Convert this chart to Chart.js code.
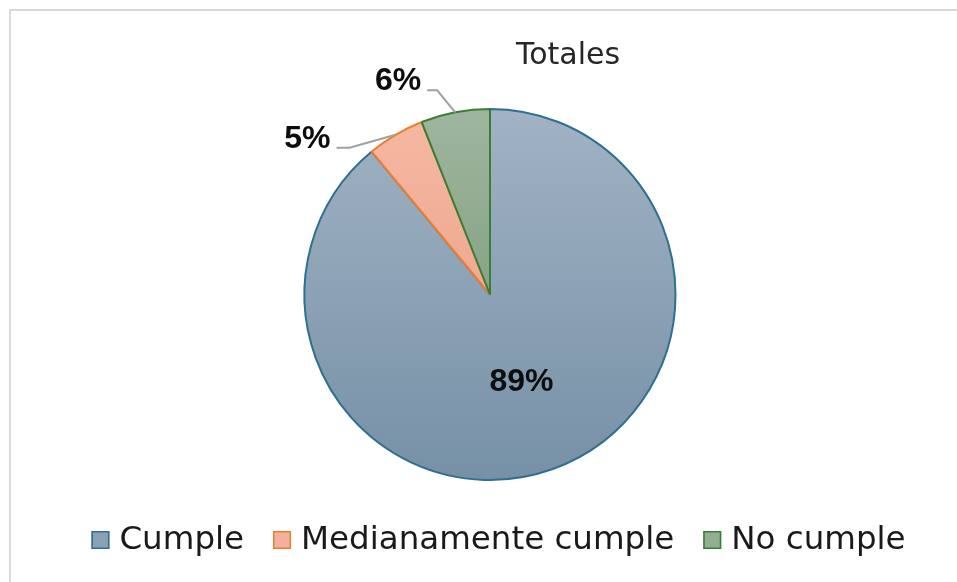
<!DOCTYPE html>
<html lang="es">
<head>
<meta charset="utf-8">
<title>Totales</title>
<script src="https://cdn.jsdelivr.net/npm/chart.js@4.4.1/dist/chart.umd.min.js"></script>
<style>
  html, body { margin: 0; padding: 0; background: #ffffff; }
  #wrap { position: relative; width: 957px; height: 582px; }
</style>
</head>
<body>
<div id="wrap"><canvas id="pie"></canvas></div>
<script>
// Chart data
const chartTitle = 'Totales';
const categories = ['Cumple', 'Medianamente cumple', 'No cumple'];
const percentages = [89, 5, 6];

// Slice styling: gradient stops (top, bottom) and outline colours
const fillTop    = ['#a1b3c4', '#f6b8a2', '#9fb69e'];
const fillBottom = ['#7690a6', '#e69a80', '#6f8f6e'];
const legendFill = ['#8ba1b5', '#f4b09b', '#93ad90'];
const outline    = ['#2f6f8f', '#ed7d31', '#3a7d34'];

// Leader-line offsets (from the slice's outer edge to the elbow) for small slices
const calloutOffsets = { 1: { dx: -46, dy: 13, run: 13 }, 2: { dx: -18, dy: -22, run: 10 } };

function sliceGradient(context) {
  const chart = context.chart;
  const area = chart.chartArea;
  const i = context.dataIndex;
  if (!area) return legendFill[i];
  const g = chart.ctx.createLinearGradient(0, area.top, 0, area.bottom);
  g.addColorStop(0, fillTop[i]);
  g.addColorStop(1, fillBottom[i]);
  return g;
}

// Light frame around the chart area
const framePlugin = {
  id: 'frame',
  beforeDraw(chart) {
    const ctx = chart.ctx;
    ctx.save();
    ctx.fillStyle = '#ffffff';
    ctx.fillRect(0, 0, chart.width, chart.height);
    ctx.strokeStyle = '#d9d9d9';
    ctx.lineWidth = 2;
    ctx.strokeRect(10, 10, chart.width + 20, chart.height + 20);
    ctx.restore();
  }
};

// Title, percentage labels with leader lines, and the legend row
const annotatePlugin = {
  id: 'annotate',
  afterDatasetsDraw(chart) {
    const ctx = chart.ctx;
    const meta = chart.getDatasetMeta(0);
    const total = percentages.reduce((a, b) => a + b, 0);

    ctx.save();
    // Title
    ctx.font = '30px "DejaVu Sans", sans-serif';
    ctx.fillStyle = '#262626';
    ctx.textAlign = 'center';
    ctx.textBaseline = 'alphabetic';
    ctx.fillText(chartTitle, 568, 64);

    // Percentage labels
    ctx.font = 'bold 32px "Liberation Sans", Arial, sans-serif';
    ctx.fillStyle = '#0d0d0d';
    meta.data.forEach((arc, i) => {
      const p = arc.getProps(['x', 'y', 'startAngle', 'endAngle', 'outerRadius'], true);
      const mid = (p.startAngle + p.endAngle) / 2;
      const text = percentages[i] + '%';
      if (percentages[i] / total >= 0.1) {
        const r = p.outerRadius * 0.5;
        ctx.textAlign = 'center';
        ctx.textBaseline = 'middle';
        ctx.fillText(text, p.x + Math.cos(mid) * r, p.y + Math.sin(mid) * r);
      } else {
        const off = calloutOffsets[i] || { dx: -20, dy: -20, run: 10 };
        const ax = p.x + Math.cos(mid) * p.outerRadius;
        const ay = p.y + Math.sin(mid) * p.outerRadius;
        const ex = ax + off.dx, ey = ay + off.dy;
        const tx = ex - off.run;
        ctx.strokeStyle = '#a0a0a0';
        ctx.lineWidth = 2;
        ctx.beginPath();
        ctx.moveTo(ax, ay);
        ctx.lineTo(ex, ey);
        ctx.lineTo(tx, ey);
        ctx.stroke();
        ctx.textAlign = 'right';
        ctx.textBaseline = 'alphabetic';
        ctx.fillText(text, tx - 6, ey);
      }
    });

    // Legend
    ctx.font = '32.5px "DejaVu Sans", sans-serif';
    const box = 18, gap = 10, itemGap = 29;
    const widths = categories.map(c => ctx.measureText(c).width);
    const totalW = widths.reduce((a, w) => a + box + gap + w, 0) + itemGap * (categories.length - 1);
    let x = 498.5 - totalW / 2;
    const baseline = 549;
    categories.forEach((c, i) => {
      ctx.fillStyle = legendFill[i];
      ctx.fillRect(x, baseline - box, box, box);
      ctx.strokeStyle = outline[i];
      ctx.lineWidth = 1.5;
      ctx.strokeRect(x + 0.75, baseline - box + 0.75, box - 1.5, box - 1.5);
      ctx.fillStyle = '#1a1a1a';
      ctx.textAlign = 'left';
      ctx.textBaseline = 'alphabetic';
      ctx.fillText(c, x + box + gap, baseline);
      x += box + gap + widths[i] + itemGap;
    });
    ctx.restore();
  }
};

new Chart(document.getElementById('pie'), {
  type: 'pie',
  data: {
    labels: categories,
    datasets: [{
      data: percentages,
      backgroundColor: sliceGradient,
      borderColor: outline,
      borderWidth: 2
    }]
  },
  options: {
    responsive: true,
    maintainAspectRatio: false,
    animation: false,
    layout: { padding: { top: 108, bottom: 101, left: 303.5, right: 280.5 } },
    plugins: {
      legend: { display: false },
      title: { display: false },
      tooltip: { enabled: false }
    }
  },
  plugins: [framePlugin, annotatePlugin]
});
</script>
</body>
</html>
